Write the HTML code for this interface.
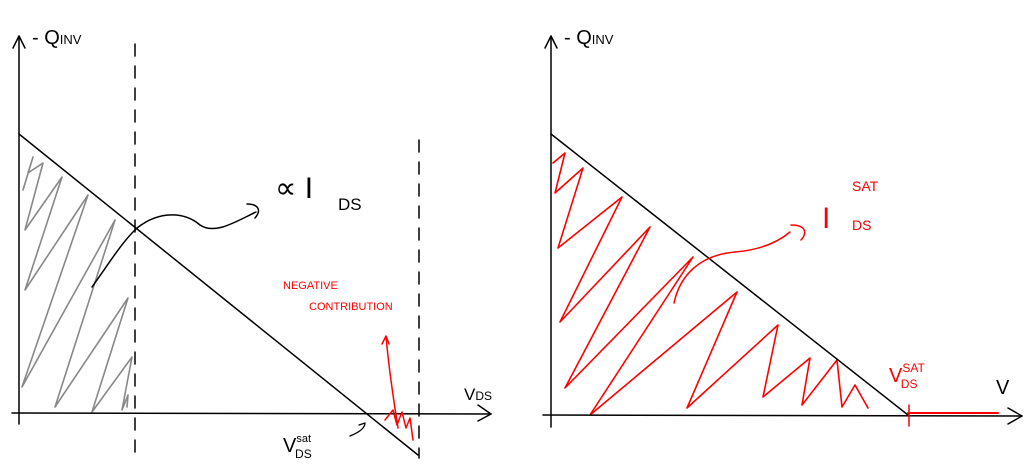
<!DOCTYPE html>
<html><head><meta charset="utf-8"><style>
body{margin:0;background:#fff;width:1035px;height:470px;overflow:hidden}
text{font-family:"Liberation Sans",sans-serif}
</style></head><body>
<svg width="1035" height="470" viewBox="0 0 1035 470" fill="none" stroke-linecap="round" stroke-linejoin="round">
<g>
  <g>
  <polyline stroke="#888" stroke-width="1.6" points="23,190 33,157 28,173 43,163 25,230 62,177 25,290 88,195 22,387 115,220 55,407 128,298 92,412 132,357 122,410 128,395 127,407"/>
  </g>
  <line x1="19" y1="36" x2="19" y2="424" stroke="#000" stroke-width="1.5"/>
  <polyline points="13,48 19,36 25,48" stroke="#000" stroke-width="1.5"/>
  <line x1="12" y1="413" x2="491" y2="414" stroke="#000" stroke-width="1.5"/>
  <polyline points="478,405 491,414 478,421" stroke="#000" stroke-width="1.5"/>
  <line x1="19" y1="134" x2="418" y2="455" stroke="#000" stroke-width="1.5"/>
  <line x1="135" y1="44" x2="135" y2="462" stroke="#000" stroke-width="1.5" stroke-dasharray="12,10"/>
  <line x1="419" y1="140" x2="419" y2="458" stroke="#000" stroke-width="1.5" stroke-dasharray="12,10"/>
  <path d="M92,287 C110,262 122,242 137,228 C160,210 185,212 200,225 C215,235 235,222 256,212 M247,204 C258,204 262,210 255,218" stroke="#000" stroke-width="1.5"/>
  <text x="275" y="198" font-size="30" fill="#000">∝ I</text>
  <text x="338" y="210" font-size="17" fill="#000">DS</text>
  <text x="32" y="44" font-size="20" fill="#000">- Q<tspan font-size="13">INV</tspan></text>
  <text x="464" y="400" font-size="17" fill="#000">V<tspan font-size="12">DS</tspan></text>
  <text x="283" y="289" font-size="11" fill="#f00">NEGATIVE</text>
  <text x="309" y="310" font-size="11" fill="#f00">CONTRIBUTION</text>
  <path d="M398,428 C392,390 388,360 386,336 M382,344 L386,336 L389,344" stroke="#f00" stroke-width="1.5"/>
  <polyline points="385,420 393,410 397,425 402,412 406,428 410,418 413,440" stroke="#f00" stroke-width="1.5"/>
  <text x="283" y="452" font-size="20" fill="#000">V<tspan font-size="11" dy="-10">sat</tspan><tspan font-size="12" dx="-16" dy="16">DS</tspan></text>
  <path d="M350,436 C360,432 365,428 365,423 L359,425" stroke="#000" stroke-width="1.3"/>
</g>
<g>
  <polyline stroke="#f00" stroke-width="1.6" points="553,163 565,153 555,193 583,168 573,200 558,248 622,197 560,322 650,227 565,388 693,257 590,415 737,292 687,408 778,325 763,397 810,358 802,405 837,360 842,407 855,385 868,408"/>
  <line x1="551" y1="36" x2="551" y2="427" stroke="#000" stroke-width="1.5"/>
  <polyline points="545,48 551,36 557,48" stroke="#000" stroke-width="1.5"/>
  <line x1="543" y1="415" x2="1022" y2="416" stroke="#000" stroke-width="1.5"/>
  <polyline points="1008,408 1022,416 1008,424" stroke="#000" stroke-width="1.5"/>
  <line x1="551" y1="134" x2="908" y2="415" stroke="#000" stroke-width="1.5"/>
  <line x1="908" y1="413" x2="998" y2="413" stroke="#f00" stroke-width="2"/>
  <line x1="909" y1="405" x2="909" y2="426" stroke="#f00" stroke-width="1.5"/>
  <path d="M674,303 C680,275 700,255 735,252 C760,250 778,242 790,232 M791,225 C805,225 808,232 801,240" stroke="#f00" stroke-width="1.5"/>
  <text x="822" y="228" font-size="30" fill="#f00">I</text>
  <text x="852" y="191" font-size="14" fill="#f00">SAT</text>
  <text x="852" y="230" font-size="14" fill="#f00">DS</text>
  <text x="564" y="44" font-size="20" fill="#000">- Q<tspan font-size="13">INV</tspan></text>
  <text x="996" y="394" font-size="20" fill="#000">V</text>
  <text x="889" y="382" font-size="20" fill="#f00">V<tspan font-size="12" dy="-10">SAT</tspan><tspan font-size="12" dx="-24" dy="16">DS</tspan></text>
</g>
</svg>
</body></html>
